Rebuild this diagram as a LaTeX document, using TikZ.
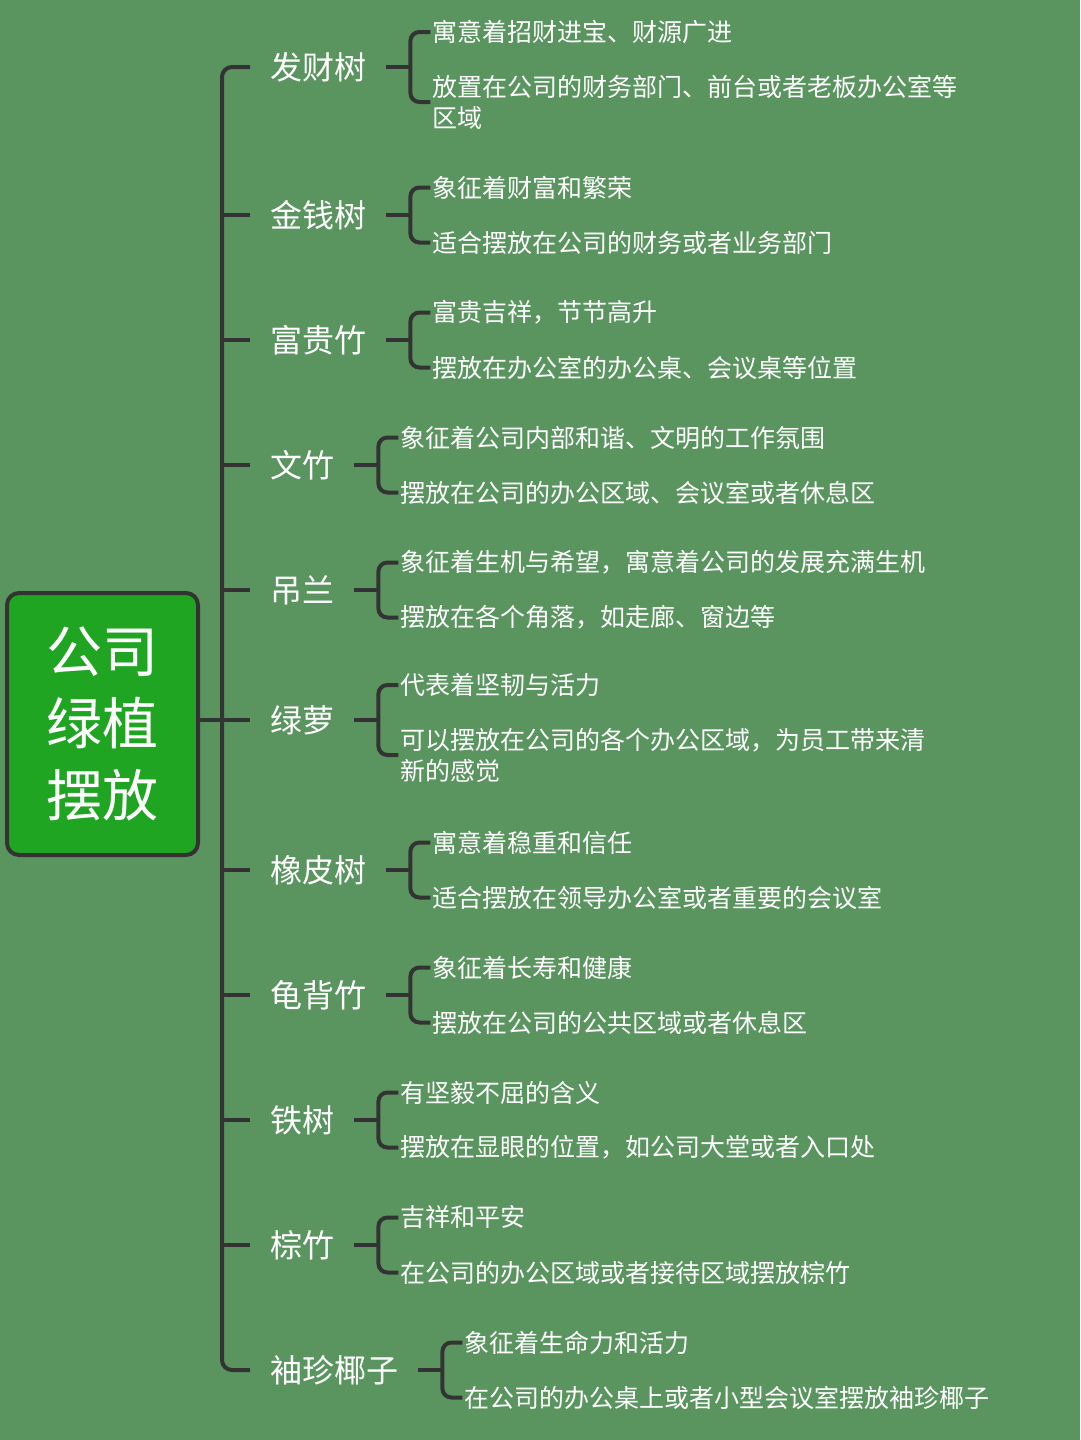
\documentclass[tikz,border=0pt]{standalone}
\usepackage{fontspec}
\setmainfont{Noto Sans CJK SC}
\usetikzlibrary{calc}
\definecolor{bg}{HTML}{5A9560}
\definecolor{rootfill}{HTML}{1FA522}
\definecolor{ink}{HTML}{333333}
\newcommand\mybranch[6]{%
  \node[cat] (#1) at (250,#3) {#2};
  \coordinate (#1j) at ($(#1.east)+(24,0)$);
  \node[leaf] (#1a) at ($(#1j)+(20,-#4)$) {#5};
  \node[leaf] (#1b) at ($(#1j)+(20,#4)$) {#6};
  \draw[line] (#1.east) -- (#1j);
  \draw[line,rounded corners=9pt] (#1j) |- (#1a.west);
  \draw[line,rounded corners=9pt] (#1j) |- (#1b.west);
}
\begin{document}
\begin{tikzpicture}[x=1pt,y=-1pt,
  line/.style={draw=ink,line width=4pt},
  cat/.style={anchor=west,text=white,font=\fontsize{32}{38}\selectfont,inner xsep=20pt,inner ysep=0pt},
  leaf/.style={anchor=west,text=white,font=\fontsize{25}{31}\selectfont,inner xsep=2pt,inner ysep=0pt,align=left},
  root/.style={draw=ink,line width=4pt,fill=rootfill,rounded corners=12pt,minimum width=191pt,minimum height=262pt,text=white,align=center,font=\fontsize{56}{72}\selectfont,inner sep=0pt}]
\fill[bg] (0,0) rectangle (1080,1440);
\useasboundingbox (0,0) rectangle (1080,1440);

\node[root] (root) at (102.5,724) {公司\\绿植\\摆放};

\mybranch{c1}{发财树}{67}{35}{寓意着招财进宝、财源广进}{放置在公司的财务部门、前台或者老板办公室等\\区域}
\mybranch{c2}{金钱树}{215}{27.5}{象征着财富和繁荣}{适合摆放在公司的财务或者业务部门}
\mybranch{c3}{富贵竹}{340}{27.5}{富贵吉祥，节节高升}{摆放在办公室的办公桌、会议桌等位置}
\mybranch{c4}{文竹}{465}{27.5}{象征着公司内部和谐、文明的工作氛围}{摆放在公司的办公区域、会议室或者休息区}
\mybranch{c5}{吊兰}{590}{27.5}{象征着生机与希望，寓意着公司的发展充满生机}{摆放在各个角落，如走廊、窗边等}
\mybranch{c6}{绿萝}{720}{35}{代表着坚韧与活力}{可以摆放在公司的各个办公区域，为员工带来清\\新的感觉}
\mybranch{c7}{橡皮树}{870}{27.5}{寓意着稳重和信任}{适合摆放在领导办公室或者重要的会议室}
\mybranch{c8}{龟背竹}{995}{27.5}{象征着长寿和健康}{摆放在公司的公共区域或者休息区}
\mybranch{c9}{铁树}{1120}{27.5}{有坚毅不屈的含义}{摆放在显眼的位置，如公司大堂或者入口处}
\mybranch{c10}{棕竹}{1245}{27.5}{吉祥和平安}{在公司的办公区域或者接待区域摆放棕竹}
\mybranch{c11}{袖珍椰子}{1370}{27.5}{象征着生命力和活力}{在公司的办公桌上或者小型会议室摆放袖珍椰子}

\coordinate (trunk) at (222,720);
\draw[line] (root.east |- c6) -- (c6.west);
\draw[line,rounded corners=10pt] (c1.west) -| (trunk);
\draw[line,rounded corners=10pt] (c11.west) -| (trunk);
\foreach \c in {c2,c3,c4,c5,c7,c8,c9,c10}{
  \draw[line] (\c.west) -- (\c.west -| trunk);
}
\end{tikzpicture}
\end{document}
